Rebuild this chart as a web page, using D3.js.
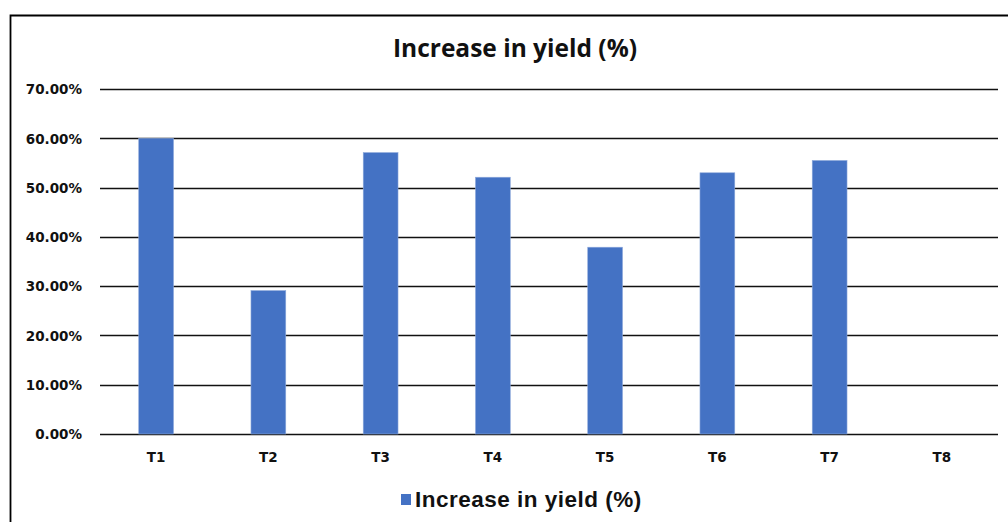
<!DOCTYPE html>
<html><head><meta charset="utf-8">
<script src="https://cdn.jsdelivr.net/npm/d3@7"></script>
<style>html,body{margin:0;padding:0;background:#fff;overflow:hidden}</style>
</head><body>
<svg id="c" width="1008" height="522"></svg>
<script>
const categories = ["T1","T2","T3","T4","T5","T6","T7","T8"];
const values = [0.600, 0.291, 0.571, 0.521, 0.379, 0.530, 0.555, 0.0];
const yTicks = [0, 0.1, 0.2, 0.3, 0.4, 0.5, 0.6, 0.7];
const seriesName = "Increase in yield (%)";
const titleText = "Increase in yield (%)";

const svg = d3.select("#c");
const pL = 100, pR = 998, pT = 89, pB = 434;

// frame
svg.append("path").attr("d", "M10.5,530 L10.5,15.5 L1010,15.5")
  .attr("fill","none").attr("stroke","#000").attr("stroke-width",1.8);

const x = d3.scaleBand().domain(categories).range([pL,pR])
  .paddingInner(0.69).paddingOuter(0.345);
const y = d3.scaleLinear().domain([0,0.7]).range([pB,pT]);

// gridlines
svg.append("g").selectAll("line").data(yTicks).join("line")
  .attr("x1",pL).attr("x2",pR)
  .attr("y1",d=>Math.round(y(d))+0.5).attr("y2",d=>Math.round(y(d))+0.5)
  .attr("stroke","#111").attr("stroke-width",1.6);

// y labels
const yAxis = d3.axisLeft(y).tickValues(yTicks).tickSize(0).tickPadding(0)
  .tickFormat(d=>d3.format(".2f")(d*100)+"%");
const ga = svg.append("g").attr("transform",`translate(82,0)`).call(yAxis);
ga.select(".domain").remove();
ga.selectAll("text").attr("font-family","DejaVu Sans").attr("font-weight","bold")
  .attr("font-size",13.5).attr("fill","#111").attr("dy","0.35em");

// bars
svg.append("g").selectAll("rect").data(values).join("rect")
  .attr("x",(d,i)=>x(categories[i])).attr("width",x.bandwidth())
  .attr("y",d=>y(d)).attr("height",d=>y(0)-y(d))
  .attr("fill","#4472C4").attr("stroke","#8EA9DB").attr("stroke-width",0.6);

// x labels
const xAxis = d3.axisBottom(x).tickSize(0).tickPadding(0);
const gx = svg.append("g").attr("transform",`translate(0,452)`).call(xAxis);
gx.select(".domain").remove();
gx.selectAll("text").attr("font-family","DejaVu Sans").attr("font-weight","bold")
  .attr("font-size",13.5).attr("fill","#111").attr("dy","0.71em");

// title
svg.append("text").attr("x",515).attr("y",57).attr("text-anchor","middle")
  .attr("font-family","Open Sans").attr("font-weight","bold").attr("font-size",24.5)
  .attr("fill","#111").text(titleText);

// legend
svg.append("rect").attr("x",401).attr("y",494).attr("width",10).attr("height",11).attr("fill","#4472C4");
svg.append("text").attr("x",415).attr("y",506.5)
  .attr("font-family","Liberation Sans").attr("font-weight","bold").attr("font-size",22.5)
  .attr("letter-spacing",0.5).attr("fill","#111").text(seriesName);
</script>
</body></html>
